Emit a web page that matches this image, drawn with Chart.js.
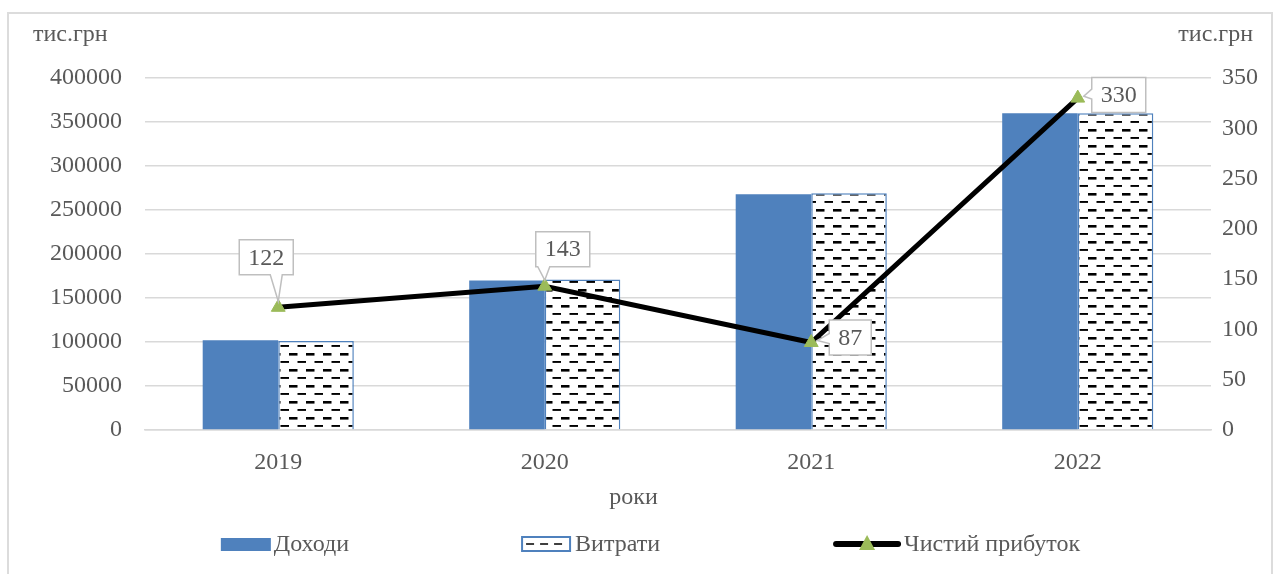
<!DOCTYPE html>
<html lang="uk">
<head>
<meta charset="utf-8">
<title>Доходи, витрати та чистий прибуток</title>
<script src="https://cdn.jsdelivr.net/npm/chart.js@4.4.1/dist/chart.umd.min.js"></script>
<style>
  html, body { margin: 0; padding: 0; background: #fff; }
  #wrap { position: relative; width: 1277px; height: 574px; }
  #frame { position: absolute; left: 7px; top: 12px; width: 1266px; height: 600px;
           border: 2px solid #dcdcdc; box-sizing: border-box; pointer-events: none; }
</style>
</head>
<body>
<div id="wrap">
  <canvas id="chart"></canvas>
  <div id="frame"></div>
</div>
<script>
const years = ['2019', '2020', '2021', '2022'];
const income = [102000, 170000, 268000, 360000];
const expenses = [101000, 171000, 269000, 360000];
const netProfit = [122, 143, 87, 330];
const leftTicks = [0, 50000, 100000, 150000, 200000, 250000, 300000, 350000, 400000];
const rightTicks = [0, 50, 100, 150, 200, 250, 300, 350];

const BLUE = '#4f81bd';
const GREEN = '#9bbb59';
const TEXT = '#595959';
const FONT = '"Liberation Serif", "DejaVu Serif", serif';
const SIZE = 24;

// where each value box sits relative to its point (dx, dy)
const labelOffsets = [[-12, -50], [18, -37], [39, -5], [41, -3]];

function dashPattern() {
    const c = document.createElement('canvas');
    c.width = 17;
    c.height = 16;
    const g = c.getContext('2d');
    g.fillStyle = '#fff';
    g.fillRect(0, 0, 17, 16);
    g.fillStyle = '#000';
    g.fillRect(0, 1, 8.5, 2.6);
    g.fillRect(8.5, 9, 8.5, 1.9);
    return document.getElementById('chart').getContext('2d').createPattern(c, 'repeat');
}

const unitsPlugin = {
    id: 'units',
    afterDraw(chart) {
        const ctx = chart.ctx;
        ctx.save();
        ctx.font = SIZE + 'px ' + FONT;
        ctx.fillStyle = TEXT;
        ctx.textBaseline = 'middle';
        ctx.textAlign = 'left';
        ctx.fillText('тис.грн', 33, 35);
        ctx.textAlign = 'right';
        ctx.fillText('тис.грн', chart.width - 24, 35);
        ctx.textAlign = 'center';
        ctx.fillText('роки', chart.width / 2 - 5, 498);
        ctx.restore();
    }
};

const valueLabels = {
    id: 'valueLabels',
    afterDatasetsDraw(chart) {
        const ctx = chart.ctx;
        const idx = chart.data.datasets.findIndex(d => d.type === 'line');
        const meta = chart.getDatasetMeta(idx);
        ctx.save();
        ctx.font = SIZE + 'px ' + FONT;
        ctx.textAlign = 'center';
        ctx.textBaseline = 'middle';
        meta.data.forEach((pt, i) => {
            const text = String(chart.data.datasets[idx].data[i]);
            const w = ctx.measureText(text).width + 18;
            const h = 35;
            const cx = pt.x + labelOffsets[i][0];
            const cy = pt.y + labelOffsets[i][1];
            const l = cx - w / 2, r = cx + w / 2, t = cy - h / 2, b = cy + h / 2;
            ctx.beginPath();
            if (Math.abs(labelOffsets[i][1]) > Math.abs(labelOffsets[i][0])) {
                const b1 = Math.max(l + 2, Math.min(pt.x - 8, r - 14));
                ctx.moveTo(l, t);
                ctx.lineTo(r, t);
                ctx.lineTo(r, b);
                ctx.lineTo(b1 + 12, b);
                ctx.lineTo(pt.x, pt.y - 6);
                ctx.lineTo(b1, b);
                ctx.lineTo(l, b);
            } else {
                const y1 = Math.max(t + 2, Math.min(pt.y - 9, b - 12));
                ctx.moveTo(l, t);
                ctx.lineTo(r, t);
                ctx.lineTo(r, b);
                ctx.lineTo(l, b);
                ctx.lineTo(l, y1 + 10);
                ctx.lineTo(pt.x + 6, pt.y - 2);
                ctx.lineTo(l, y1);
            }
            ctx.closePath();
            ctx.fillStyle = '#fff';
            ctx.fill();
            ctx.strokeStyle = '#bfbfbf';
            ctx.lineWidth = 1.5;
            ctx.stroke();
            ctx.fillStyle = TEXT;
            ctx.fillText(text, cx, cy + 1);
        });
        ctx.restore();
    }
};

const bottomLegend = {
    id: 'bottomLegend',
    afterDraw(chart) {
        const ctx = chart.ctx;
        const sets = chart.data.datasets;
        ctx.save();
        ctx.font = SIZE + 'px ' + FONT;
        const gap = 3, spacing = 173;
        const items = sets.map(d => ({
            d: d,
            box: d.type === 'line' ? 68 : 50,
            tw: ctx.measureText(d.label).width
        }));
        let total = 0;
        items.forEach((it, i) => { total += it.box + gap + it.tw + (i ? spacing : 0); });
        let x = chart.width / 2 + 12 - total / 2;
        const y = chart.height - 30;
        items.forEach(it => {
            const d = it.d;
            if (d.type === 'line') {
                ctx.strokeStyle = d.borderColor;
                ctx.lineWidth = 6;
                ctx.lineCap = 'round';
                ctx.beginPath();
                ctx.moveTo(x + 3, y);
                ctx.lineTo(x + it.box - 3, y);
                ctx.stroke();
                const cx = x + it.box / 2;
                ctx.fillStyle = d.pointBackgroundColor;
                ctx.beginPath();
                ctx.moveTo(cx, y - 9);
                ctx.lineTo(cx + 8, y + 6);
                ctx.lineTo(cx - 8, y + 6);
                ctx.closePath();
                ctx.fill();
            } else if (d.borderWidth) {
                ctx.fillStyle = '#fff';
                ctx.fillRect(x, y - 7, it.box - 2, 14);
                ctx.strokeStyle = d.borderColor;
                ctx.lineWidth = 2;
                ctx.strokeRect(x, y - 7, it.box - 2, 14);
                ctx.strokeStyle = '#000';
                ctx.lineWidth = 1.5;
                ctx.setLineDash([8, 6]);
                ctx.beginPath();
                ctx.moveTo(x + 4, y);
                ctx.lineTo(x + it.box - 5, y);
                ctx.stroke();
                ctx.setLineDash([]);
            } else {
                ctx.fillStyle = d.backgroundColor;
                ctx.fillRect(x, y - 6, it.box, 13);
            }
            ctx.fillStyle = TEXT;
            ctx.textAlign = 'left';
            ctx.textBaseline = 'middle';
            ctx.fillText(d.label, x + it.box + gap, y + 1);
            x += it.box + gap + it.tw + spacing;
        });
        ctx.restore();
    }
};

const tickFont = { family: FONT, size: SIZE };

new Chart(document.getElementById('chart'), {
    type: 'bar',
    data: {
        labels: years,
        datasets: [
            {
                label: 'Доходи',
                data: income,
                backgroundColor: BLUE,
                borderWidth: 0,
                yAxisID: 'y',
                order: 2
            },
            {
                label: 'Витрати',
                data: expenses,
                backgroundColor: dashPattern(),
                borderColor: BLUE,
                borderWidth: 1.5,
                yAxisID: 'y',
                order: 2
            },
            {
                type: 'line',
                label: 'Чистий прибуток',
                data: netProfit,
                borderColor: '#000',
                borderWidth: 5,
                pointStyle: 'triangle',
                pointRadius: 8,
                pointHoverRadius: 8,
                pointBackgroundColor: GREEN,
                pointBorderColor: GREEN,
                pointBorderWidth: 1,
                tension: 0,
                yAxisID: 'y1',
                order: 0
            }
        ]
    },
    options: {
        responsive: true,
        maintainAspectRatio: false,
        animation: false,
        layout: { padding: { top: 78, bottom: 50, left: 0, right: 0 } },
        datasets: {
            bar: { barPercentage: 1, categoryPercentage: 0.567 }
        },
        plugins: {
            legend: { display: false },
            tooltip: { enabled: false }
        },
        scales: {
            x: {
                grid: { display: false, drawTicks: false },
                border: { display: true, color: '#d9d9d9', width: 1.5 },
                ticks: { color: TEXT, font: tickFont, padding: 18 },
                afterFit: s => { s.height = 94; }
            },
            y: {
                position: 'left',
                min: leftTicks[0],
                max: leftTicks[leftTicks.length - 1],
                grid: { color: '#d9d9d9', lineWidth: 1.5, drawTicks: false },
                border: { display: false },
                ticks: {
                    stepSize: leftTicks[1] - leftTicks[0],
                    color: TEXT,
                    font: tickFont,
                    padding: 23,
                    callback: v => String(v)
                },
                afterFit: s => { s.width = 145; }
            },
            y1: {
                position: 'right',
                min: rightTicks[0],
                max: rightTicks[rightTicks.length - 1],
                grid: { display: false, drawTicks: false },
                border: { display: false },
                ticks: {
                    stepSize: rightTicks[1] - rightTicks[0],
                    color: TEXT,
                    font: tickFont,
                    padding: 11,
                    callback: v => String(v)
                },
                afterFit: s => { s.width = 66; }
            }
        }
    },
    plugins: [unitsPlugin, valueLabels, bottomLegend]
});
</script>
</body>
</html>
